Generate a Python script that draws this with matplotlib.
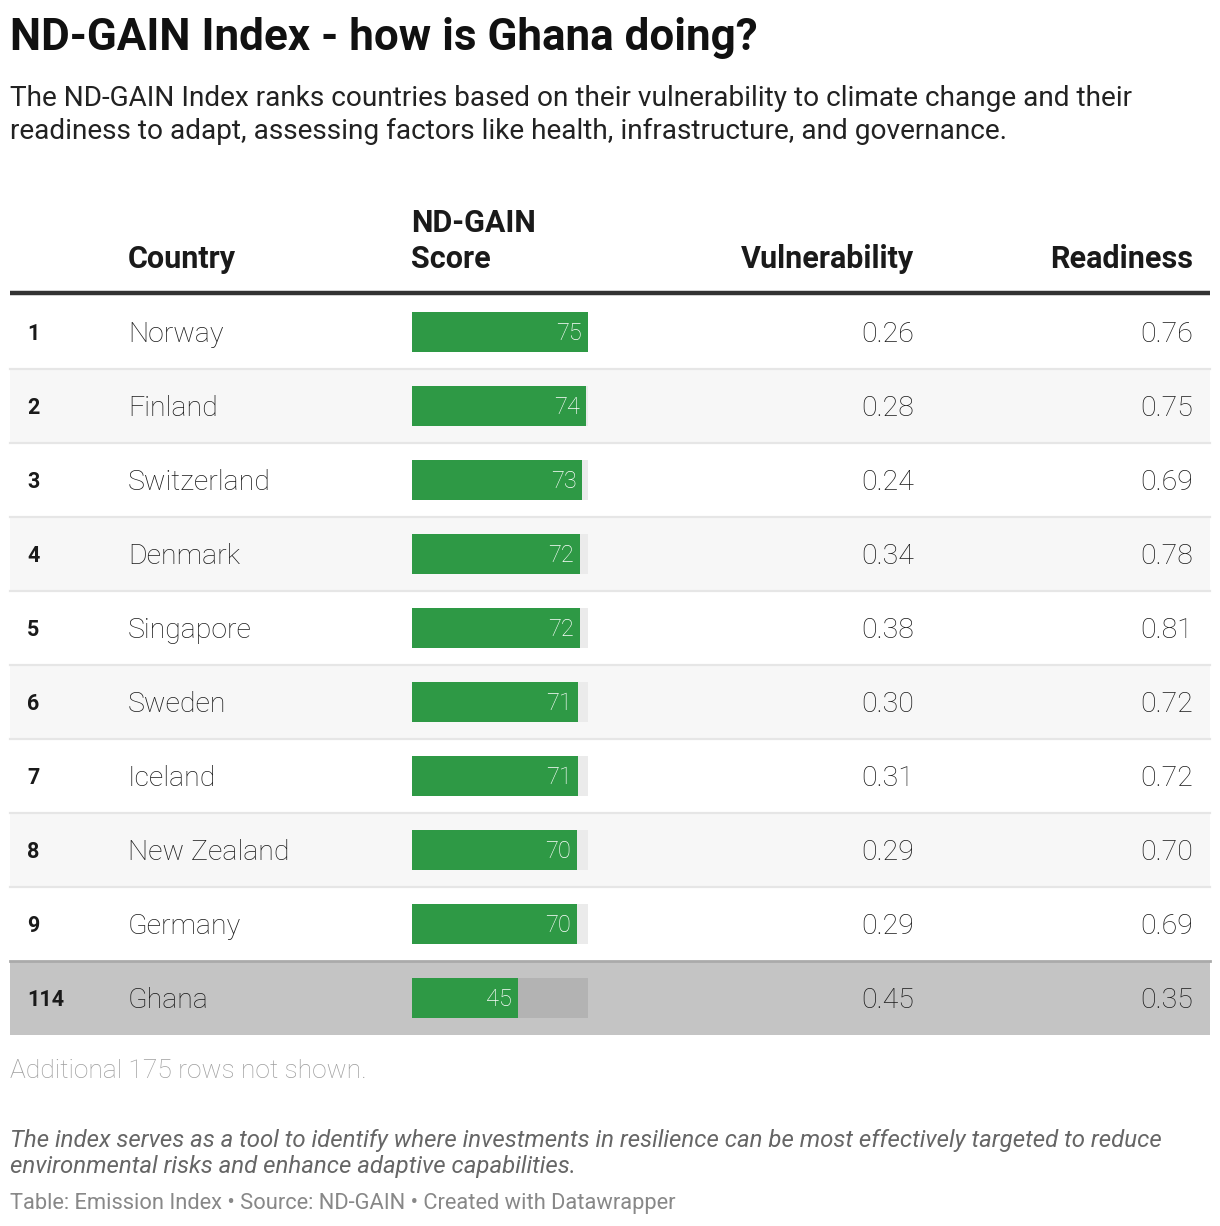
import matplotlib
matplotlib.use('Agg')
import matplotlib.pyplot as plt
from matplotlib.patches import Rectangle

plt.rcParams['font.family'] = ['Roboto', 'DejaVu Sans']

# table data
ranks = ['1', '2', '3', '4', '5', '6', '7', '8', '9', '114']
countries = ['Norway', 'Finland', 'Switzerland', 'Denmark', 'Singapore',
             'Sweden', 'Iceland', 'New Zealand', 'Germany', 'Ghana']
scores = [75.0, 74.2, 72.6, 71.7, 71.6, 70.8, 70.7, 70.4, 70.2, 45.0]
vulnerability = [0.26, 0.28, 0.24, 0.34, 0.38, 0.30, 0.31, 0.29, 0.29, 0.45]
readiness = [0.76, 0.75, 0.69, 0.78, 0.81, 0.72, 0.72, 0.70, 0.69, 0.35]
score_max = 75.0
highlight = 'Ghana'

W, H = 1220, 1226
fig = plt.figure(figsize=(W / 100, H / 100), dpi=100)
ax = fig.add_axes([0, 0, 1, 1])
ax.set_xlim(0, W)
ax.set_ylim(H, 0)
ax.axis('off')

dark = '#1a1a1a'
green = '#2e9945'

# title + subtitle
ax.text(10, 38, 'ND-GAIN Index - how is Ghana doing?', fontsize=31.7, fontweight='bold',
        color='#111111', va='center')
ax.text(10, 98, 'The ND-GAIN Index ranks countries based on their vulnerability to climate change and their',
        fontsize=20.2, color='#222222', va='center')
ax.text(10, 131, 'readiness to adapt, assessing factors like health, infrastructure, and governance.',
        fontsize=20.2, color='#222222', va='center')

# header
hdr = dict(fontsize=22, fontweight='bold', color=dark, va='center')
ax.text(128, 259, 'Country', ha='left', **hdr)
ax.text(411, 223, 'ND-GAIN', ha='left', **hdr)
ax.text(411, 259, 'Score', ha='left', **hdr)
ax.text(914, 259, 'Vulnerability', ha='right', **hdr)
ax.text(1193, 259, 'Readiness', ha='right', **hdr)

row_top = 295
row_h = 74
centers = [row_top + row_h * i + row_h / 2 for i in range(len(countries))]

# row backgrounds and separators
for i, c in enumerate(countries):
    top = row_top + row_h * i
    if c == highlight:
        ax.add_patch(Rectangle((10, top), 1200, row_h, color='#c4c4c4', lw=0, zorder=0))
        ax.plot([10, 1210], [top, top], color='#aaaaaa', lw=2, zorder=1)
    else:
        if i % 2 == 1:
            ax.add_patch(Rectangle((10, top), 1200, row_h, color='#f7f7f7', lw=0, zorder=0))
        if i > 0:
            ax.plot([10, 1210], [top, top], color='#e6e6e6', lw=1.6, zorder=1)

ax.plot([10, 1210], [293, 293], color='#333333', lw=3.2, zorder=2, solid_capstyle='butt')

# text cells
for i, c in enumerate(countries):
    y = centers[i] + 2
    ax.text(27, y, ranks[i], fontsize=15.5, fontweight='bold', color=dark, va='center')
    ax.text(128, y, c, fontsize=20.5, fontweight='light', color=dark, va='center')
    ax.text(914, y, f'{vulnerability[i]:.2f}', fontsize=20.5, fontweight='light',
            color=dark, va='center', ha='right')
    ax.text(1193, y, f'{readiness[i]:.2f}', fontsize=20.5, fontweight='light',
            color=dark, va='center', ha='right')

# bar column
bx = fig.add_axes([412 / W, 0, 176 / W, 1])
bx.set_xlim(0, score_max)
bx.set_ylim(H, 0)
bx.axis('off')
bg_cols = ['#b3b3b3' if c == highlight else '#ebebeb' for c in countries]
bx.barh(centers, [score_max] * len(countries), height=40, color=bg_cols, lw=0)
bx.barh(centers, scores, height=40, color=green, lw=0)
pad = 6 * score_max / 176
for y, s in zip(centers, scores):
    bx.text(s - pad, y + 1.5, f'{s:.0f}', fontsize=17,
            fontweight='light', color='white', va='center', ha='right')

# notes
ax.text(10, 1071, 'Additional 175 rows not shown.', fontsize=19, fontweight='light',
        color='#9e9e9e', va='center')
ax.text(10, 1140, 'The index serves as a tool to identify where investments in resilience can be most effectively targeted to reduce',
        fontsize=17.3, style='italic', color='#666666', va='center')
ax.text(10, 1167, 'environmental risks and enhance adaptive capabilities.',
        fontsize=17.3, style='italic', color='#666666', va='center')
ax.text(10, 1204, 'Table: Emission Index \u2022 Source: ND-GAIN \u2022 Created with Datawrapper',
        fontsize=15.75, color='#888888', va='center')

fig.savefig('out.png', dpi=100, facecolor='white')
